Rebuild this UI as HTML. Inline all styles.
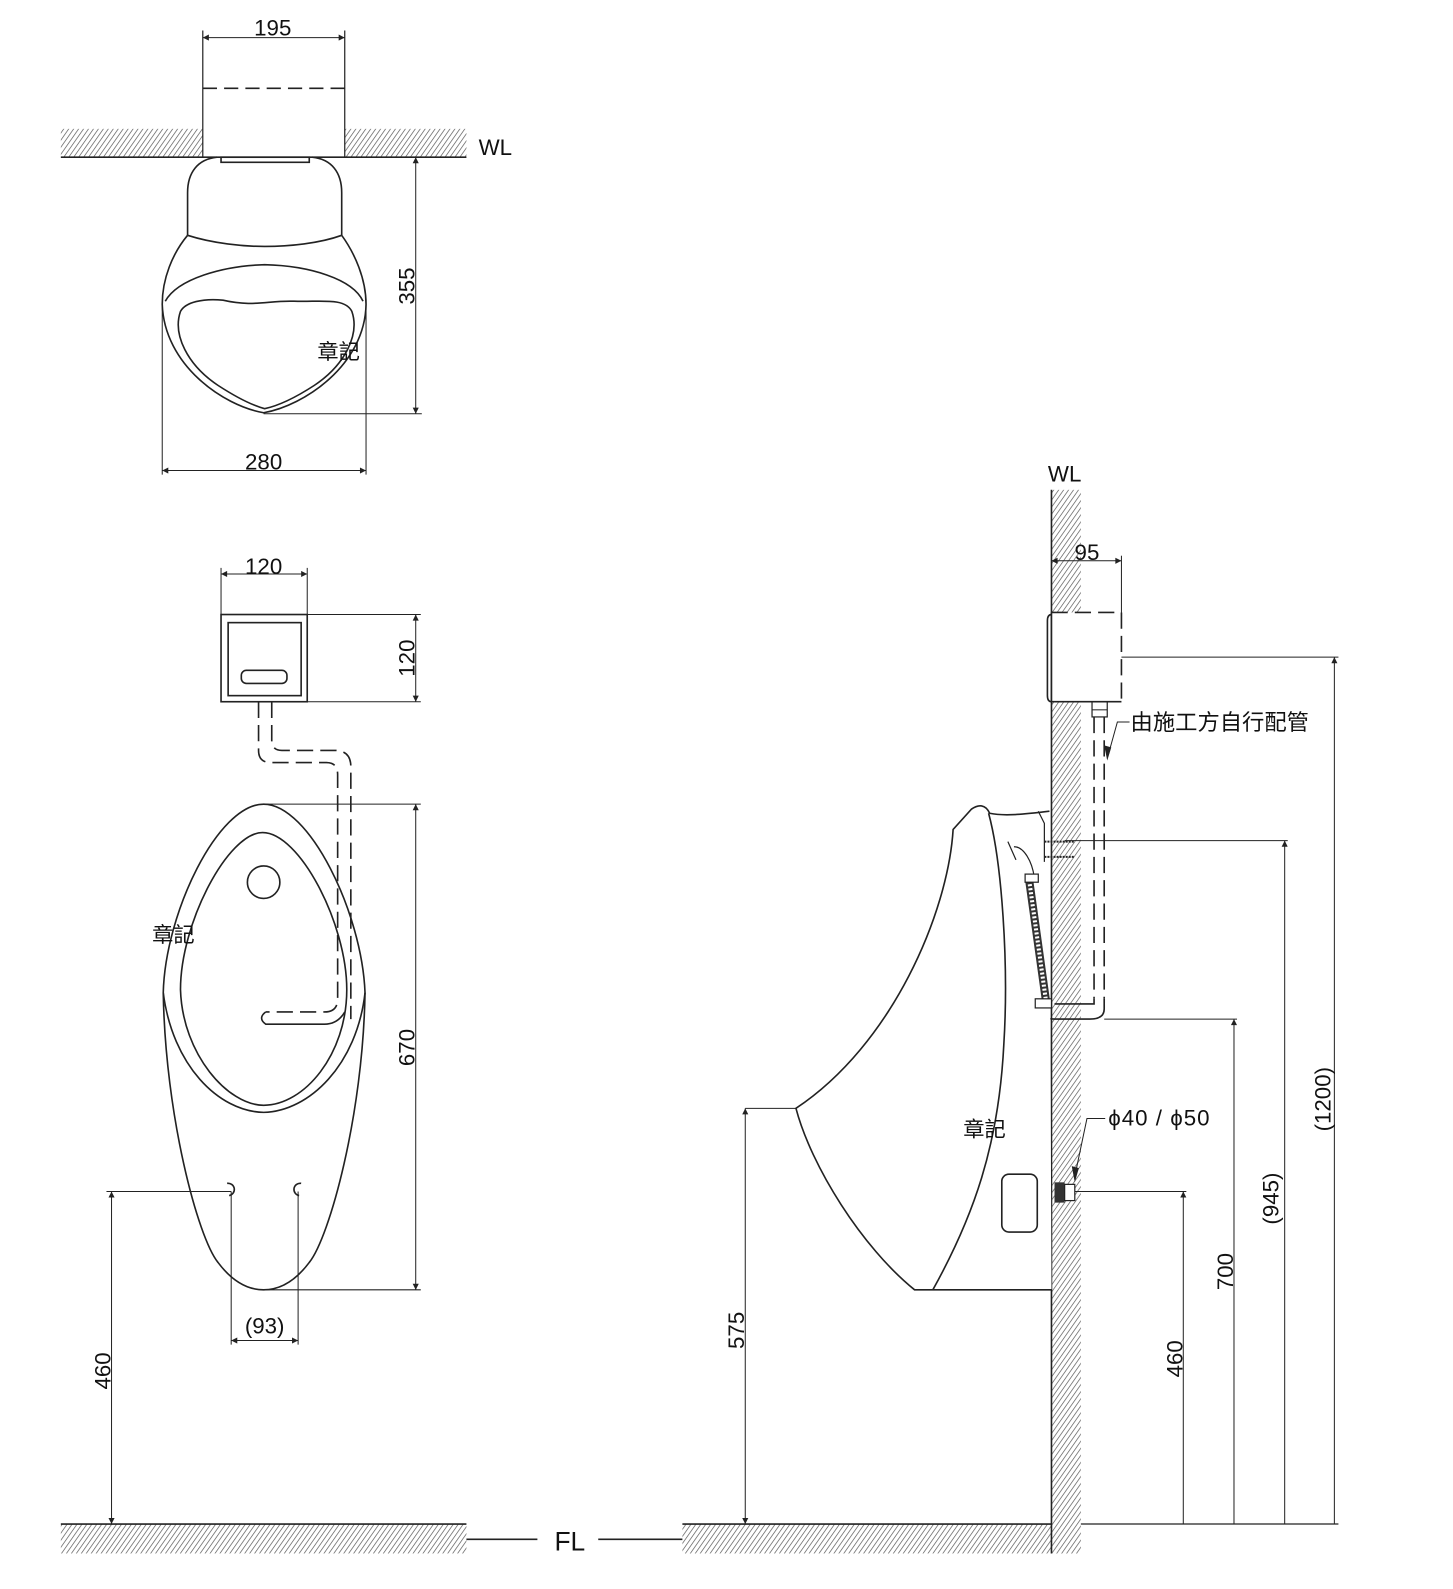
<!DOCTYPE html>
<html><head><meta charset="utf-8"><style>
html,body{margin:0;padding:0;background:#fff;}
svg{display:block;}
text{font-family:"Liberation Sans","Noto Sans CJK SC",sans-serif;fill:#111;}
</style></head><body>
<svg width="1453" height="1589" viewBox="0 0 1433 1567" xmlns="http://www.w3.org/2000/svg">
<defs>
<pattern id="h" width="4" height="4" patternUnits="userSpaceOnUse" patternTransform="rotate(35)">
<rect width="4" height="4" fill="#fff"/><line x1="0" y1="0" x2="0" y2="4" stroke="#666" stroke-width="1.5"/>
</pattern>
<marker id="a" viewBox="0 0 10 10" refX="10" refY="5" markerWidth="14" markerHeight="6" orient="auto-start-reverse" markerUnits="userSpaceOnUse"><path d="M0,0 L10,5 L0,10z" fill="#222"/></marker>
</defs>
<g fill="none" stroke="#222" stroke-width="1.6">
<!-- TOP VIEW -->
<rect x="60" y="127" width="140" height="28" fill="url(#h)" stroke="none"/>
<rect x="340" y="127" width="120" height="28" fill="url(#h)" stroke="none"/>
<line x1="60" y1="155" x2="460" y2="155"/>
<line x1="200" y1="30" x2="200" y2="155" stroke-width="1.2"/>
<line x1="340" y1="30" x2="340" y2="155" stroke-width="1.2"/>
<line x1="200" y1="87" x2="340" y2="87" stroke-dasharray="14,7"/>
<line x1="200" y1="37" x2="340" y2="37" stroke-width="1" marker-start="url(#a)" marker-end="url(#a)"/>
<rect x="218" y="155" width="87" height="5"/>
<path d="M214,155 C195,157 185,170 185,190 L185,232 M337,232 L337,190 C337,170 327,157 308,155"/>
<path d="M185,232 C210,240 240,243 261,243 C285,243 315,240 337,232"/>
<path d="M185,232 C170,250 160,275 160,300 C162,360 220,400 260,407 C300,400 360,360 361,300 C361,275 350,250 337,232"/>
<path d="M163,297 C175,275 220,262 261,261 C305,262 348,275 358,297"/>
<path d="M178,307 C170,330 185,360 215,380 C235,393 250,400 261,403 C275,400 290,393 310,380 C340,360 355,330 347,307 C340,293 315,298 290,297 C265,296 250,303 220,296 C200,294 183,298 178,307z"/>
<line x1="410" y1="155" x2="410" y2="408" stroke-width="1" marker-start="url(#a)" marker-end="url(#a)"/>
<line x1="260" y1="408" x2="416" y2="408" stroke-width="1"/>
<line x1="160" y1="300" x2="160" y2="468" stroke-width="1"/>
<line x1="361" y1="300" x2="361" y2="468" stroke-width="1"/>
<line x1="160" y1="464" x2="361" y2="464" stroke-width="1" marker-start="url(#a)" marker-end="url(#a)"/>

<!-- FRONT VIEW -->
<rect x="218" y="606" width="85" height="86"/>
<rect x="225" y="614" width="72" height="72"/>
<rect x="238" y="661" width="45" height="13" rx="5"/>
<line x1="218" y1="560" x2="218" y2="606" stroke-width="1"/>
<line x1="303" y1="560" x2="303" y2="606" stroke-width="1"/>
<line x1="218" y1="566" x2="303" y2="566" stroke-width="1" marker-start="url(#a)" marker-end="url(#a)"/>
<line x1="303" y1="606" x2="415" y2="606" stroke-width="1"/>
<line x1="303" y1="692" x2="415" y2="692" stroke-width="1"/>
<line x1="410" y1="606" x2="410" y2="692" stroke-width="1" marker-start="url(#a)" marker-end="url(#a)"/>
<g stroke-dasharray="16,7">
<path d="M255,692 L255,740 Q255,752 267,752 L322,752 Q333,752 333,764 L333,985 Q333,998 320,998 L262,998"/>
<path d="M268,692 L268,730 Q268,740 278,740 L330,740 Q346,740 346,756 L346,1005"/>
</g>
<path d="M262,998 Q254,1004 262,1010 L320,1010 Q333,1010 340,998"/>
<path d="M260,793 C215,793 163,900 161,979 C163,1100 195,1220 215,1245 C230,1265 245,1272 260,1272 C275,1272 290,1265 305,1245 C325,1220 358,1100 360,979 C357,900 305,793 260,793z"/>
<path d="M161,979 C170,1050 215,1096 260,1097 C305,1096 352,1050 360,979"/>
<path d="M259,821 C225,821 178,910 178,976 C180,1040 225,1090 260,1090 C300,1090 342,1040 342,976 C342,910 295,821 259,821z"/>
<circle cx="260" cy="870" r="16"/>
<path d="M224,1167 A6,6 0 1 1 226,1179"/>
<path d="M297,1167 A6,6 0 1 0 295,1179"/>
<line x1="105" y1="1175" x2="228" y2="1175" stroke-width="1"/>
<line x1="228" y1="1175" x2="228" y2="1326" stroke-width="1"/>
<line x1="294" y1="1175" x2="294" y2="1326" stroke-width="1"/>
<line x1="228" y1="1322" x2="294" y2="1322" stroke-width="1" marker-start="url(#a)" marker-end="url(#a)"/>
<line x1="260" y1="793" x2="415" y2="793" stroke-width="1"/>
<line x1="260" y1="1272" x2="415" y2="1272" stroke-width="1"/>
<line x1="410" y1="793" x2="410" y2="1272" stroke-width="1" marker-start="url(#a)" marker-end="url(#a)"/>
<line x1="110" y1="1175" x2="110" y2="1503" stroke-width="1" marker-start="url(#a)" marker-end="url(#a)"/>

<!-- FLOORS -->
<rect x="60" y="1503" width="400" height="29" fill="url(#h)" stroke="none"/>
<rect x="673" y="1503" width="392" height="29" fill="url(#h)" stroke="none"/>
<line x1="60" y1="1503" x2="460" y2="1503"/>
<line x1="673" y1="1503" x2="1037" y2="1503"/>
<line x1="1037" y1="1503" x2="1320" y2="1503" stroke-width="1.2"/>
<line x1="460" y1="1518" x2="530" y2="1518"/>
<line x1="590" y1="1518" x2="673" y2="1518"/>

<!-- SIDE VIEW -->
<rect x="1037" y="483" width="29" height="1049" fill="url(#h)" stroke="none"/>
<line x1="1037" y1="483" x2="1037" y2="1532"/>
<rect x="1037" y="604" width="69" height="88" fill="#fff" stroke="none"/>
<path d="M1106,604 L1106,692 M1037,604 L1106,604" stroke-dasharray="16,7"/>
<path d="M1037,604 L1037,692 L1106,692"/>
<path d="M1037,606 Q1033,606 1033,612 L1033,686 Q1033,692 1037,692"/>
<line x1="1037" y1="553" x2="1106" y2="553" stroke-width="1" marker-start="url(#a)" marker-end="url(#a)"/>
<line x1="1106" y1="548" x2="1106" y2="604" stroke-width="1"/>
<line x1="1106" y1="648" x2="1320" y2="648" stroke-width="1"/>
<line x1="1316" y1="648" x2="1316" y2="1503" stroke-width="1" marker-start="url(#a)"/>
<rect x="1077" y="692" width="15" height="15" stroke-width="1.2"/>
<line x1="1077" y1="700" x2="1092" y2="700" stroke-width="1"/>
<g stroke-dasharray="16,7">
<line x1="1079" y1="707" x2="1079" y2="985"/>
<line x1="1089" y1="707" x2="1089" y2="985"/>
</g>
<path d="M1079,985 L1079,990 L1040,990 M1089,985 L1089,995 Q1089,1005 1075,1005 L1040,1005 Q1027,1005 1025,995"/>
<path d="M1114,712 L1102,712 L1092,748" stroke-width="1"/>
<path d="M1092,750 L1089,735 L1096,737z" fill="#222" stroke="none"/>
<line x1="1050" y1="829" x2="1270" y2="829" stroke-width="1"/>
<line x1="1267" y1="829" x2="1267" y2="1503" stroke-width="1" marker-start="url(#a)"/>
<line x1="1089" y1="1005" x2="1220" y2="1005" stroke-width="1"/>
<line x1="1217" y1="1005" x2="1217" y2="1503" stroke-width="1" marker-start="url(#a)"/>
<line x1="1055" y1="1175" x2="1170" y2="1175" stroke-width="1"/>
<line x1="1167" y1="1175" x2="1167" y2="1503" stroke-width="1" marker-start="url(#a)"/>
<line x1="735" y1="1093" x2="785" y2="1093" stroke-width="1"/>
<line x1="735" y1="1093" x2="735" y2="1503" stroke-width="1" marker-start="url(#a)" marker-end="url(#a)"/>
<!-- urinal profile -->
<path d="M1035,800 C1010,803 990,805 976,802 C972,793 965,793 958,798 L940,818 C935,900 880,1030 785,1093 C800,1150 850,1230 902,1272 L1037,1272" fill="#fff"/>
<path d="M975,802 C988,850 995,950 990,1030 C985,1130 960,1200 920,1272"/>
<rect x="988" y="1158" width="35" height="57" rx="7"/>
<path d="M1024,800 L1030,812 L1030,850" stroke-width="1.2"/>
<line x1="1030" y1="830" x2="1060" y2="830" stroke-width="2" stroke-dasharray="2,1"/>
<line x1="1030" y1="845" x2="1060" y2="845" stroke-width="2" stroke-dasharray="2,1"/>
<path d="M994,830 L1002,848 M1000,835 C1010,835 1018,850 1020,865" stroke-width="1.2"/>
<path d="M1015,868 L1032,990" stroke-width="8" stroke="#333"/>
<path d="M1015,868 L1032,990" stroke-width="4" stroke="#fff" stroke-dasharray="2,2"/>
<rect x="1011" y="862" width="13" height="8" stroke-width="1.2" fill="#fff"/>
<rect x="1021" y="985" width="16" height="9" stroke-width="1.2" fill="#fff"/>
<rect x="1040" y="1166" width="10" height="20" fill="#333" stroke="none"/>
<rect x="1050" y="1168" width="10" height="16" fill="#fff" stroke-width="1.2"/>
<path d="M1090,1103 L1072,1103 L1060,1160" stroke-width="1"/>
<path d="M1060,1166 L1057,1150 L1064,1152z" fill="#222" stroke="none"/>
</g>
<g font-size="22">
<text x="269" y="35" text-anchor="middle">195</text>
<text x="472" y="153">WL</text>
<text x="260" y="463" text-anchor="middle">280</text>
<text x="409" y="282" text-anchor="middle" transform="rotate(-90 409 282)">355</text>
<text x="260" y="566" text-anchor="middle">120</text>
<text x="409" y="649" text-anchor="middle" transform="rotate(-90 409 649)">120</text>
<text x="409" y="1033" text-anchor="middle" transform="rotate(-90 409 1033)">670</text>
<text x="261" y="1315" text-anchor="middle">(93)</text>
<text x="109" y="1352" text-anchor="middle" transform="rotate(-90 109 1352)">460</text>
<text x="1050" y="475" text-anchor="middle">WL</text>
<text x="1072" y="552" text-anchor="middle">95</text>
<text x="1115" y="720">由施工方自行配管</text>
<text x="1093" y="1110" letter-spacing="1">ϕ40 / ϕ50</text>
<text x="734" y="1312" text-anchor="middle" transform="rotate(-90 734 1312)">575</text>
<text x="1166" y="1340" text-anchor="middle" transform="rotate(-90 1166 1340)">460</text>
<text x="1216" y="1254" text-anchor="middle" transform="rotate(-90 1216 1254)">700</text>
<text x="1261" y="1182" text-anchor="middle" transform="rotate(-90 1261 1182)">(945)</text>
<text x="1312" y="1084" text-anchor="middle" transform="rotate(-90 1312 1084)">(1200)</text>
<text x="562" y="1529" text-anchor="middle" font-size="26">FL</text>
</g>
<g font-size="21" style="fill:#333">
<text x="313" y="354">章記</text>
<text x="150" y="929">章記</text>
<text x="950" y="1121">章記</text>
</g>
</svg>
</body></html>
